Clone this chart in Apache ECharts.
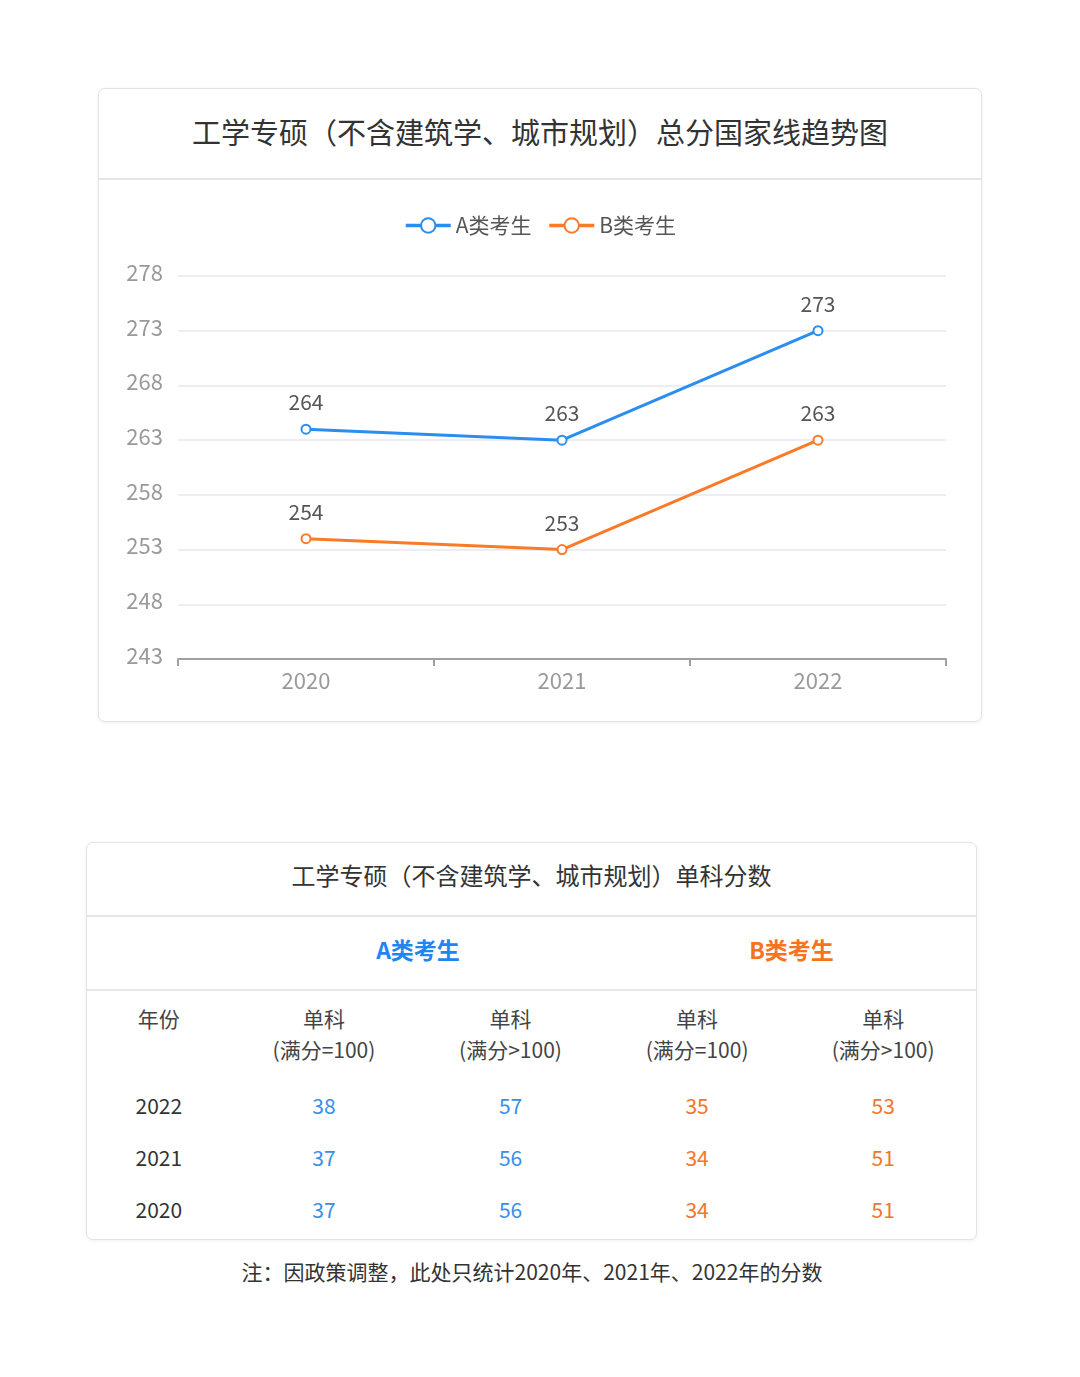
<!DOCTYPE html>
<html>
<head>
<meta charset="utf-8">
<script src="https://cdn.jsdelivr.net/npm/echarts@6/dist/echarts.min.js"></script>
<style>
  html, body { margin: 0; padding: 0; background: #ffffff; width: 1080px; height: 1377px; overflow: hidden; }
  body { position: relative; font-family: "Noto Sans CJK SC", "Noto Sans", sans-serif; }
  .card {
    position: absolute; background: #fff; border: 1px solid #e3e3e6; border-radius: 7px;
    box-shadow: 0 1px 4px rgba(0,0,0,0.06); box-sizing: border-box;
  }
  #card1 { left: 98px; top: 88px; width: 884px; height: 634px; }
  #title1 {
    position: absolute; left: 0; right: 0; top: 0; height: 89px; line-height: 84px;
    text-align: center; font-size: 29px; color: #333; border-bottom: 2px solid #e6e6e8;
  }
  #card2 { left: 86px; top: 842px; width: 891px; height: 398px; }
  #title2 {
    position: absolute; left: 0; right: 0; top: 0; height: 72px; line-height: 64px;
    text-align: center; font-size: 24px; color: #333; border-bottom: 2px solid #e6e6e8;
  }
  #groupRow {
    position: absolute; left: 0; right: 0; top: 74px; height: 72px; border-bottom: 2px solid #e6e6e8;
  }
  .grp { position: absolute; top: 0; height: 72px; line-height: 64px; text-align: center; font-size: 23px; font-weight: bold; }
  #tbl { position: absolute; left: 0; top: 160px; border-collapse: collapse; }
  #tbl td { padding: 0; text-align: center; font-size: 21px; color: #333; }
  #note { position: absolute; left: 0; width: 1064px; top: 1256px; text-align: center; font-size: 21px; color: #333; }
</style>
</head>
<body>
<div class="card" id="card1">
  <div id="title1"></div>
</div>
<div id="chart" style="position:absolute;left:0;top:0;width:1080px;height:722px;"></div>
<div class="card" id="card2">
  <div id="title2"></div>
  <div id="groupRow"></div>
  <table id="tbl"></table>
</div>
<div id="note"></div>
<script>
// ---- chart data ----
const chartTitle = '工学专硕（不含建筑学、城市规划）总分国家线趋势图';
const years = ['2020', '2021', '2022'];
const seriesNames = ['A类考生', 'B类考生'];
const scoresA = [264, 263, 273];
const scoresB = [254, 253, 263];
const yTicks = [243, 248, 253, 258, 263, 268, 273, 278];

// ---- table data ----
const tableTitle = '工学专硕（不含建筑学、城市规划）单科分数';
const groupNames = ['A类考生', 'B类考生'];
const headerYear = '年份';
const headerCols = ['单科<br>(满分=100)', '单科<br>(满分>100)', '单科<br>(满分=100)', '单科<br>(满分>100)'];
const tableYears = ['2022', '2021', '2020'];
const singleA100 = [38, 37, 37];
const singleAOver = [57, 56, 56];
const singleB100 = [35, 34, 34];
const singleBOver = [53, 51, 51];
const noteText = '注：因政策调整，此处只统计2020年、2021年、2022年的分数';

const BLUE = '#2a8ef0';
const ORANGE = '#f97b27';
const TBL_BLUE = '#3a8fe8';
const TBL_ORANGE = '#f4752a';

document.getElementById('title1').textContent = chartTitle;
document.getElementById('title2').textContent = tableTitle;
document.getElementById('note').textContent = noteText;

// group header
const colW = [144, 187, 187, 187, 186];
const gr = document.getElementById('groupRow');
const g1 = document.createElement('div');
g1.className = 'grp'; g1.style.left = colW[0] + 'px'; g1.style.width = (colW[1] + colW[2]) + 'px';
g1.style.color = '#1f86f0'; g1.textContent = groupNames[0];
const g2 = document.createElement('div');
g2.className = 'grp'; g2.style.left = (colW[0] + colW[1] + colW[2]) + 'px'; g2.style.width = (colW[3] + colW[4]) + 'px';
g2.style.color = '#f7731c'; g2.textContent = groupNames[1];
gr.appendChild(g1); gr.appendChild(g2);

// table
const tbl = document.getElementById('tbl');
let html = '<tr style="height:68px;vertical-align:top">';
html += '<td style="width:' + colW[0] + 'px;line-height:31px;color:#444">' + headerYear + '</td>';
headerCols.forEach((h, i) => {
  html += '<td style="width:' + colW[i + 1] + 'px;line-height:31px;color:#444">' + h + '</td>';
});
html += '</tr><tr style="height:8px"><td colspan="5"></td></tr>';
tableYears.forEach((y, r) => {
  html += '<tr style="height:52px">';
  html += '<td style="color:#333">' + y + '</td>';
  html += '<td style="color:' + TBL_BLUE + '">' + singleA100[r] + '</td>';
  html += '<td style="color:' + TBL_BLUE + '">' + singleAOver[r] + '</td>';
  html += '<td style="color:' + TBL_ORANGE + '">' + singleB100[r] + '</td>';
  html += '<td style="color:' + TBL_ORANGE + '">' + singleBOver[r] + '</td>';
  html += '</tr>';
});
tbl.innerHTML = html;

// chart
const chart = echarts.init(document.getElementById('chart'), null, { renderer: 'canvas' });
const fontFam = '"Noto Sans CJK SC", "Noto Sans", sans-serif';
chart.setOption({
  animation: false,
  textStyle: { fontFamily: fontFam },
  color: [BLUE, ORANGE],
  legend: {
    top: 210,
    left: 'center',
    itemWidth: 45,
    itemHeight: 18,
    itemGap: 16,
    lineStyle: { width: 3.5 },
    itemStyle: { borderWidth: 3.5 },
    textStyle: { fontSize: 21, color: '#555', fontFamily: fontFam },
    data: seriesNames
  },
  grid: { left: 178, right: 134, top: 276, bottom: 722 - 659, containLabel: false },
  xAxis: {
    type: 'category',
    data: years,
    boundaryGap: true,
    axisLine: { lineStyle: { color: '#a0a0a4', width: 2 } },
    axisTick: { show: true, length: 7, lineStyle: { color: '#a0a0a4', width: 2 } },
    axisLabel: { fontSize: 22, color: '#999', margin: 11, fontFamily: fontFam }
  },
  yAxis: {
    type: 'value',
    min: yTicks[0],
    max: yTicks[yTicks.length - 1],
    interval: yTicks[1] - yTicks[0],
    axisLine: { show: false },
    axisTick: { show: false },
    axisLabel: { fontSize: 22, color: '#999', margin: 15, verticalAlign: 'bottom', lineHeight: 7, fontFamily: fontFam },
    splitLine: { lineStyle: { color: '#eceef4', width: 2 } }
  },
  series: [
    {
      name: seriesNames[0], type: 'line', data: scoresA,
      symbol: 'emptyCircle', symbolSize: 9,
      lineStyle: { width: 3, color: BLUE },
      itemStyle: { color: BLUE, borderWidth: 2.5 },
      label: { show: true, position: 'top', distance: 11, fontSize: 21, color: '#555', fontFamily: fontFam }
    },
    {
      name: seriesNames[1], type: 'line', data: scoresB,
      symbol: 'emptyCircle', symbolSize: 9,
      lineStyle: { width: 3, color: ORANGE },
      itemStyle: { color: ORANGE, borderWidth: 2.5 },
      label: { show: true, position: 'top', distance: 11, fontSize: 21, color: '#555', fontFamily: fontFam }
    }
  ]
});
</script>
</body>
</html>
